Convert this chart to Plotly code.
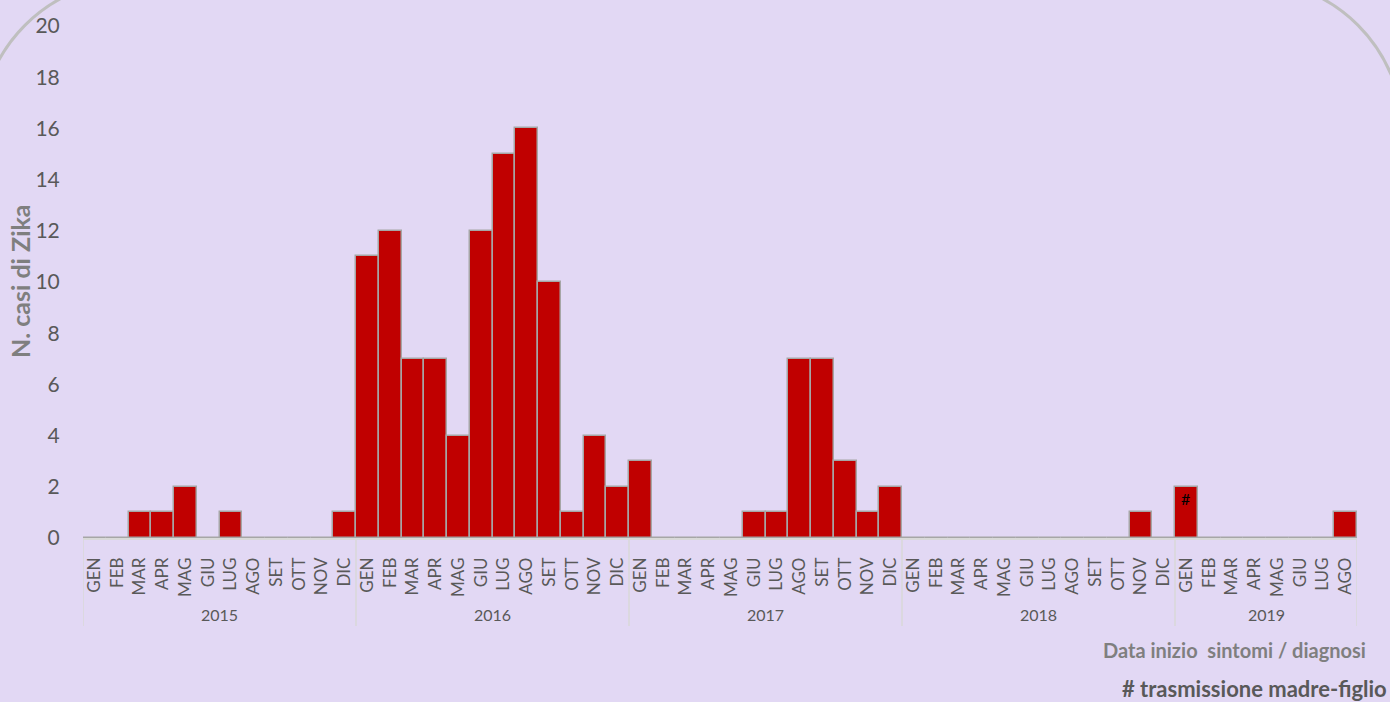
import plotly.graph_objects as go

# ---- data ----
years = ["2015", "2016", "2017", "2018", "2019"]
month_names = ["GEN", "FEB", "MAR", "APR", "MAG", "GIU", "LUG", "AGO", "SET", "OTT", "NOV", "DIC"]
months_per_year = [12, 12, 12, 12, 8]

cases_2015 = [0, 0, 1, 1, 2, 0, 1, 0, 0, 0, 0, 1]
cases_2016 = [11, 12, 7, 7, 4, 12, 15, 16, 10, 1, 4, 2]
cases_2017 = [3, 0, 0, 0, 0, 1, 1, 7, 7, 3, 1, 2]
cases_2018 = [0, 0, 0, 0, 0, 0, 0, 0, 0, 0, 1, 0]
cases_2019 = [2, 0, 0, 0, 0, 0, 0, 1]
notes_2019 = ["#", "", "", "", "", "", "", ""]  # # = trasmissione madre-figlio

values = cases_2015 + cases_2016 + cases_2017 + cases_2018 + cases_2019
month_labels = []
for n in months_per_year:
    month_labels += month_names[:n]
notes = [""] * (len(values) - len(notes_2019)) + notes_2019
xidx = list(range(len(values)))

# ---- layout geometry ----
W, H = 1390, 702
ML, MR, MT, MB = 83, W - 1357, 26, H - 538
PW, PH = W - ML - MR, H - MT - MB

def px(x):
    return (x - ML) / PW

def py(y):
    return (H - MB - y) / PH

FONT = "Lato"
BG = "#E2D8F4"
TXT = "#595959"

fig = go.Figure()
fig.add_trace(go.Bar(
    x=xidx, y=values,
    marker=dict(color="#C00000", line=dict(color="#A6A6A6", width=1.5)),
    text=notes, textposition="inside", insidetextanchor="end",
    textangle=0, textfont=dict(color="#000000", size=16, family=FONT),
    hoverinfo="skip",
))

shapes = []
annotations = []
# group dividers and year labels
start = 0
bounds = [-0.5]
for yr, n in zip(years, months_per_year):
    annotations.append(dict(x=start + (n - 1) / 2, y=py(614), xref="x", yref="paper",
                            text=yr, showarrow=False, xanchor="center", yanchor="middle",
                            font=dict(size=16, color=TXT, family=FONT)))
    start += n
    bounds.append(start - 0.5)
for b in bounds:
    shapes.append(dict(type="line", xref="x", yref="paper", x0=b, x1=b, y0=0, y1=py(626),
                       line=dict(color="#D9D9D9", width=1.5)))

# rounded frame (decorative)
def frame_path():
    L, T, R, r = -20, -20, 1403, 154
    B = 900
    k = 0.5523 * r
    def P(x, y):
        return f"{px(x):.5f},{py(y):.5f}"
    d = f"M {P(L, B)} L {P(L, T + r)} "
    d += f"C {P(L, T + r - k)} {P(L + r - k, T)} {P(L + r, T)} "
    d += f"L {P(R - r, T)} "
    d += f"C {P(R - r + k, T)} {P(R, T + r - k)} {P(R, T + r)} "
    d += f"L {P(R, B)}"
    return d

shapes.append(dict(type="path", xref="paper", yref="paper", path=frame_path(),
                   line=dict(color="#BFBFBF", width=3), layer="below"))

# axis titles / notes
annotations.append(dict(x=px(20), y=py(281), xref="paper", yref="paper",
                        text="<b>N. casi di Zika</b>", showarrow=False, textangle=-90,
                        xanchor="center", yanchor="middle",
                        font=dict(size=25, color="#7F7F7F", family=FONT)))
annotations.append(dict(x=px(1368), y=py(650), xref="paper", yref="paper",
                        text="<b>Data inizio  sintomi / diagnosi</b>", showarrow=False,
                        xanchor="right", yanchor="middle",
                        font=dict(size=20, color="#7F7F7F", family=FONT)))
annotations.append(dict(x=px(1389), y=py(688), xref="paper", yref="paper",
                        text="<b># trasmissione madre-figlio</b>", showarrow=False,
                        xanchor="right", yanchor="middle",
                        font=dict(size=22, color="#595959", family=FONT)))

fig.update_layout(
    width=W, height=H,
    margin=dict(l=ML, r=MR, t=MT, b=MB, pad=0, autoexpand=False),
    paper_bgcolor=BG, plot_bgcolor=BG,
    bargap=0, showlegend=False,
    shapes=shapes, annotations=annotations,
    font=dict(family=FONT, color=TXT),
    xaxis=dict(
        range=[-0.5, len(values) - 0.5],
        tickmode="array", tickvals=xidx, ticktext=month_labels,
        tickangle=-90, tickfont=dict(size=17, color=TXT, family=FONT),
        ticks="outside", ticklen=11, tickcolor="rgba(0,0,0,0)",
        showgrid=False, zeroline=False,
        showline=True, linecolor="#D9D9D9", linewidth=1.5,
        fixedrange=True, automargin=False,
    ),
    yaxis=dict(
        range=[0, 20], dtick=2, tick0=0,
        tickfont=dict(size=21, color=TXT, family=FONT),
        showgrid=False, zeroline=False, showline=False,
        ticks="outside", ticklen=18, tickcolor="rgba(0,0,0,0)",
        fixedrange=True, automargin=False,
    ),
)

fig.write_html(
    "out.html",
    config={"displayModeBar": False},
    post_script="document.body.style.margin='0';document.body.style.overflow='hidden';",
)
